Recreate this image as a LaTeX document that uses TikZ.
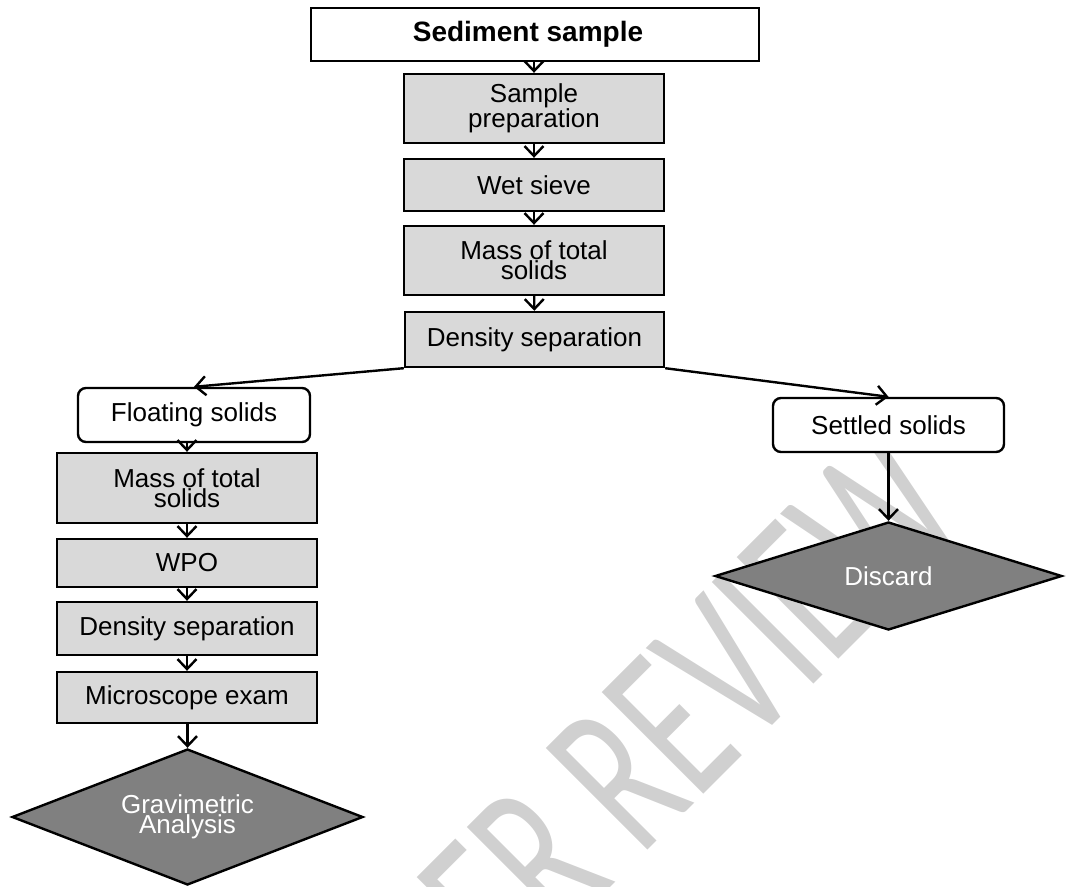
\documentclass[tikz,border=0pt]{standalone}
\usepackage{fontspec}
\setmainfont{Liberation Sans}
\newfontfamily\wmfont{Carlito}
\usetikzlibrary{shapes.geometric,arrows.meta}
\definecolor{boxgray}{HTML}{D9D9D9}
\definecolor{dgray}{HTML}{808080}
\definecolor{wmgray}{HTML}{D0D0D0}
\tikzset{
  txt/.style={font=\fontsize{26}{19}\selectfont, align=center},
  procbox/.style={txt, draw, line width=2.4pt, fill=boxgray, rectangle, inner sep=0pt},
  whitebox/.style={txt, draw, line width=2.4pt, fill=white, rectangle, inner sep=0pt},
  roundbox/.style={whitebox, rounded corners=8pt},
  endbox/.style={txt, text=white, draw, line width=2.4pt, fill=dgray, diamond, inner sep=0pt, aspect=2.6},
  arr/.style={line width=2.4pt, -{Straight Barb[length=10pt,width=19pt,line width=2.4pt]}},
}
\begin{document}
\begin{tikzpicture}[x=1pt,y=-1pt]
\useasboundingbox (0,0) rectangle (1073,886);
% watermark
\begin{scope}
\clip (0,0) rectangle (1073,886);
\node[anchor=base west, rotate=45, xscale=0.65, text=wmgray, inner sep=0pt, font=\wmfont\fontsize{224}{224}\selectfont] (wm) at (408,1090) {PEER REVIEW};
\end{scope}
% main column
\node[whitebox, minimum width=448pt, minimum height=53pt, font=\bfseries\fontsize{28}{28}\selectfont] (sed) at (535,34.5) {\hspace*{-14pt}\raisebox{2pt}{Sediment sample}};
\node[procbox, minimum width=260pt, minimum height=69pt] (prep) at (534,108.5) {Sample\\preparation};
\node[procbox, minimum width=260pt, minimum height=52pt] (sieve) at (534,185) {Wet sieve};
\node[procbox, minimum width=260pt, minimum height=69pt] (mass1) at (534,260.5) {Mass of total\\solids};
\node[procbox, minimum width=259pt, minimum height=55pt] (dens1) at (534.5,339.5) {Density separation};
% left column
\node[roundbox, minimum width=232pt, minimum height=54pt] (float) at (194,415) {\raisebox{-7pt}{Floating solids}};
\node[procbox, minimum width=260pt, minimum height=70pt] (mass2) at (187,488) {Mass of total\\solids};
\node[procbox, minimum width=260pt, minimum height=48pt] (wpo) at (187,563) {WPO};
\node[procbox, minimum width=260pt, minimum height=53pt] (dens2) at (187,628.5) {Density separation};
\node[procbox, minimum width=260pt, minimum height=51pt] (micro) at (187,697.5) {Microscope exam};
\node[endbox, minimum width=351pt, minimum height=136pt] (grav) at (187.5,817) {Gravimetric\\Analysis};
% right column
\node[roundbox, minimum width=231pt, minimum height=54pt] (settled) at (888.5,425) {\raisebox{-5pt}{Settled solids}};
\node[endbox, minimum width=347pt, minimum height=108pt] (discard) at (888.5,576) {\raisebox{-7pt}{Discard}};
% connectors
\draw[arr] (sed.south -| prep.north) -- (prep.north);
\draw[arr] (prep) -- (sieve);
\draw[arr] (sieve) -- (mass1);
\draw[arr] (mass1) -- (dens1);
\draw[arr] (dens1.south west) -- (float.north);
\draw[arr] (dens1.south east) -- (settled.north);
\draw[arr] (float.south -| mass2.north) -- (mass2.north);
\draw[arr] (mass2) -- (wpo);
\draw[arr] (wpo) -- (dens2);
\draw[arr] (dens2) -- (micro);
\draw[arr] (micro.south -| grav.north) -- (grav.north);
\draw[arr] (settled.south -| discard.north) -- (discard.north);
\end{tikzpicture}
\end{document}
